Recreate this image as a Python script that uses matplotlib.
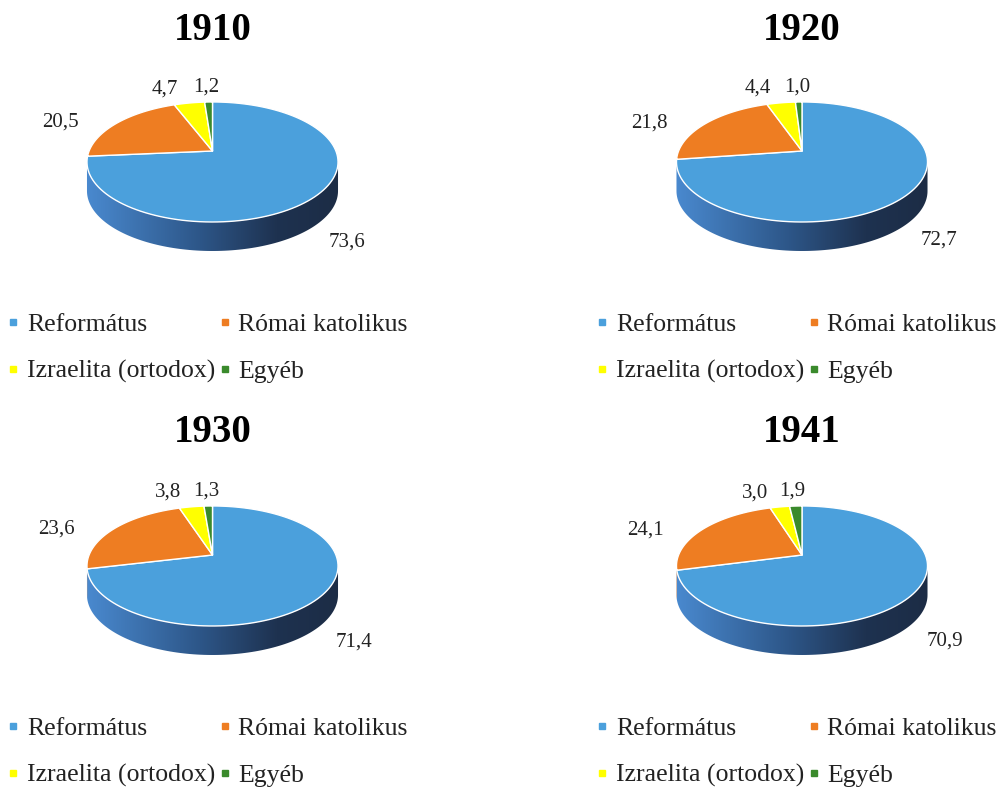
import numpy as np
import matplotlib.pyplot as plt
from matplotlib.patches import Polygon
from matplotlib.colors import LinearSegmentedColormap
from matplotlib.lines import Line2D

plt.rcParams['font.family'] = ['Liberation Serif', 'DejaVu Serif']

years = ['1910', '1920', '1930', '1941']
categories = ['Református', 'Római katolikus', 'Izraelita (ortodox)', 'Egyéb']
reformatus = [73.6, 72.7, 71.4, 70.9]
romai = [20.5, 21.8, 23.6, 24.1]
izraelita = [4.7, 4.4, 3.8, 3.0]
egyeb = [1.2, 1.0, 1.3, 1.9]

colors = ['#4BA0DC', '#EE7D22', '#FFFF00', '#3A8A2C']
side_cmaps = [
    LinearSegmentedColormap.from_list('b', [(0, '#4A8AD0'), (0.45, '#2D5688'), (0.75, '#1E3250'), (1, '#1C2C45')]),
    LinearSegmentedColormap.from_list('o', ['#C8661E', '#7A3A10']),
    LinearSegmentedColormap.from_list('y', ['#CCCC00', '#808000']),
    LinearSegmentedColormap.from_list('g', ['#2E6E22', '#1A4012']),
]

W, H = 1000, 787
RX, S, K, DEPTH = 123.4, 58.0, 0.183, 29.0   # pixels, with a bit of perspective

# pie apex (pixels from top-left), title y, legend top-left
centers = [(212.5, 151), (802, 151), (212.5, 555), (802, 555)]
title_y = [30, 30, 433, 433]
legend_xy = [(9.6, 313), (598.6, 313), (9.6, 717), (598.6, 717)]


def proj(t):
    u, v = np.cos(t), np.sin(t)
    return RX * u / (1 + K * v), S * v / (1 + K * v)


fig = plt.figure(figsize=(10, 7.87), dpi=100)
grad = np.linspace(0, 1, 256).reshape(1, -1)
vis_lo = 180 + np.degrees(np.arcsin(K))
vis_hi = 360 - np.degrees(np.arcsin(K))

for i, year in enumerate(years):
    cx, cy = centers[i]
    ax = fig.add_axes([(cx - 230) / W, (H - cy - 130) / H, 460 / W, 220 / H])
    vals = np.array([reformatus[i], romai[i], izraelita[i], egyeb[i]])
    cum = np.concatenate([[0], np.cumsum(vals) / vals.sum()])
    theta_hi = 90 - 360 * cum[:-1]
    theta_lo = 90 - 360 * cum[1:]

    for j in range(4):
        # top face
        t = np.radians(np.linspace(theta_lo[j], theta_hi[j], 120))
        x, y = proj(t)
        top = Polygon(np.vstack([[0, 0], np.column_stack([x, y])]), closed=True,
                      facecolor=colors[j], edgecolor='white', linewidth=1,
                      joinstyle='round', zorder=3)
        ax.add_patch(top)

        # side wall (front part only)
        for k in range(-2, 3):
            lo = max(theta_lo[j], vis_lo + 360 * k)
            hi = min(theta_hi[j], vis_hi + 360 * k)
            if hi <= lo:
                continue
            t = np.radians(np.linspace(lo, hi, 120))
            x, y = proj(t)
            edge = np.column_stack([x, y])
            lower = np.column_stack([x, y - DEPTH])[::-1]
            poly = Polygon(np.vstack([edge, lower]), closed=True,
                           facecolor='none', edgecolor='none')
            ax.add_patch(poly)
            im = ax.imshow(grad, cmap=side_cmaps[j], extent=[-128, 128, -110, 0],
                           aspect='auto', zorder=2, interpolation='bilinear')
            im.set_clip_path(poly)

        # value label
        mid = np.radians((theta_lo[j] + theta_hi[j]) / 2)
        c, s = np.cos(mid), np.sin(mid)
        lx = 1.25 * c * 126
        ly = -11 + 1.25 * s * 60 - (DEPTH if s < 0 else 0)
        ha = 'left' if c > 0.1 else ('right' if c < -0.1 else 'center')
        ax.text(lx, ly, f'{vals[j]:.1f}'.replace('.', ','), ha=ha, va='center',
                fontsize=15, color='#222222')

    ax.set_xlim(-230, 230)
    ax.set_ylim(-130, 90)
    ax.axis('off')

    fig.text(cx / W, 1 - title_y[i] / H, year, ha='center', va='center',
             fontsize=28, fontweight='bold')

    handles = [Line2D([], [], marker='s', linestyle='none', markersize=5,
                      color=colors[j]) for j in range(4)]
    order = [0, 2, 1, 3]
    lgx, lgy = legend_xy[i]
    fig.legend([handles[o] for o in order], [categories[o] for o in order],
               loc='upper left', bbox_to_anchor=(lgx / W, 1 - lgy / H),
               bbox_transform=fig.transFigure, ncol=2, frameon=False,
               fontsize=18.5, handlelength=0.3, handletextpad=0.375,
               columnspacing=0.22, borderpad=0, borderaxespad=0,
               labelspacing=0.93, labelcolor='#222222')

fig.savefig('out.png', dpi=100, facecolor='white')
